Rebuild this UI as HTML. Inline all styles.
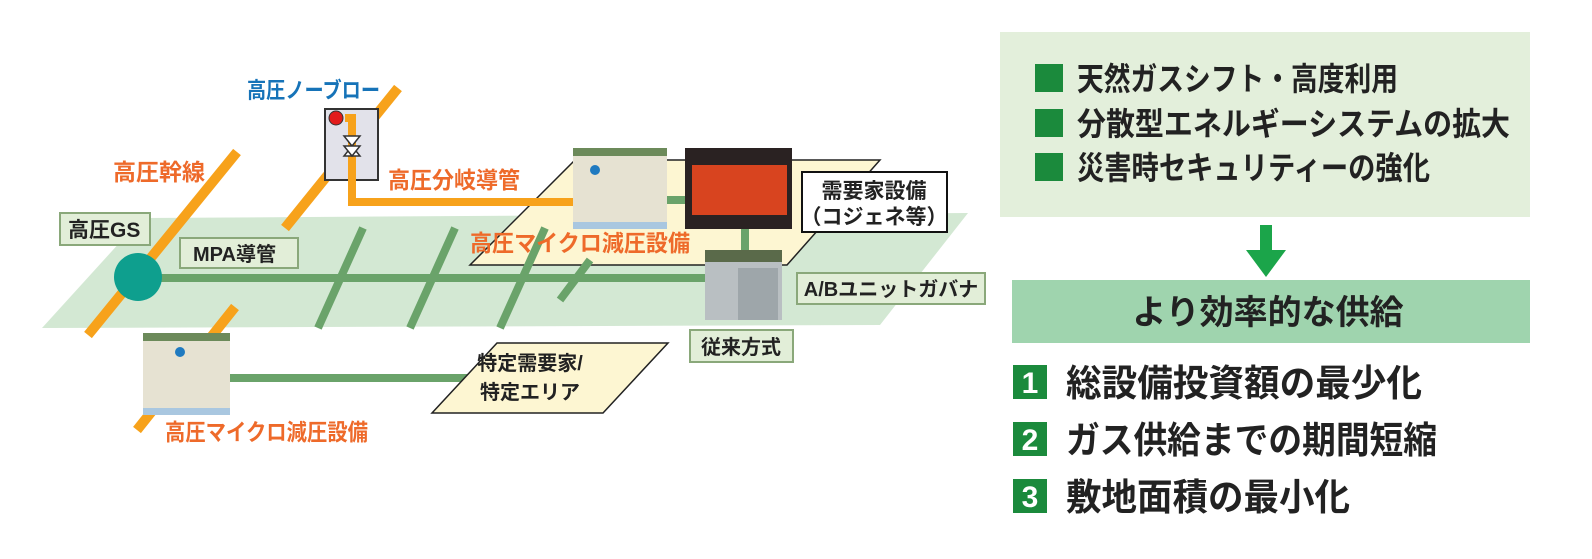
<!DOCTYPE html>
<html><head><meta charset="utf-8"><style>
html,body{margin:0;padding:0;background:#fff;}
svg{display:block}
text{font-family:"Liberation Sans","Noto Sans CJK JP",sans-serif;font-weight:bold;}
</style></head><body>
<svg width="1592" height="559" viewBox="0 0 1592 559" xmlns="http://www.w3.org/2000/svg">
<!-- green plane -->
<polygon points="142,218 968,213 880,325 42,328" fill="#d3e8d3"/>
<!-- yellow parallelogram -->
<polygon points="575,160 880,160 787,265 470,265" fill="#fdf6d2" stroke="#222" stroke-width="1.5"/>
<!-- green pipes -->
<g stroke="#6aa36a" stroke-width="8" fill="none">
<line x1="150" y1="278" x2="705" y2="278"/>
<line x1="318" y1="328" x2="363" y2="228"/>
<line x1="410" y1="328" x2="455" y2="228"/>
<line x1="500" y1="328" x2="545" y2="228"/>
<line x1="560" y1="300" x2="590" y2="260"/>
<line x1="230" y1="378" x2="470" y2="378"/>
<line x1="665" y1="200" x2="690" y2="200"/>
<line x1="745" y1="228" x2="745" y2="252"/>
</g>
<!-- orange pipes -->
<g stroke="#f7a21b" stroke-width="10" fill="none">
<line x1="88" y1="335" x2="237" y2="152"/>
<line x1="137" y1="430" x2="235" y2="307"/>
<line x1="285" y1="228" x2="398" y2="88"/>
</g>
<!-- valve box -->
<rect x="325" y="109" width="53" height="71" fill="#e2e2ea" stroke="#333" stroke-width="2"/>
<polyline points="345,118 352,118 352,202 575,202" fill="none" stroke="#f7a21b" stroke-width="8"/>
<circle cx="336" cy="118" r="7" fill="#e21b1b" stroke="#333" stroke-width="1"/>
<g fill="#fff" stroke="#333" stroke-width="1.5">
<polygon points="344,136 360,136 352,146"/>
<polygon points="344,156 360,156 352,146"/>
<polygon points="344,156 360,156 352,166" transform="translate(0,-10)"/>
</g>
<!-- teal circle -->
<circle cx="138" cy="277" r="24" fill="#0e9f8e"/>
<!-- labels -->
<text x="247" y="98" font-size="22" fill="#1673b8" textLength="133" lengthAdjust="spacingAndGlyphs">高圧ノーブロー</text>
<text x="113" y="180" font-size="23" fill="#ee6a2a">高圧幹線</text>
<text x="388" y="188" font-size="23" fill="#ee6a2a" textLength="132" lengthAdjust="spacingAndGlyphs">高圧分岐導管</text>
<rect x="60" y="213" width="90" height="32" fill="#e2eed8" stroke="#8aa87a" stroke-width="2"/>
<text x="68" y="237" font-size="21" fill="#222">高圧GS</text>
<rect x="180" y="238" width="118" height="30" fill="#e2eed8" stroke="#8aa87a" stroke-width="2"/>
<text x="193" y="261" font-size="20" fill="#222">MPA導管</text>
<!-- photos -->
<rect x="573" y="148" width="94" height="81" fill="#e6e2d2"/>
<rect x="573" y="148" width="94" height="8" fill="#6c8a5a"/>
<circle cx="595" cy="170" r="5" fill="#1f7ac0"/>
<rect x="573" y="222" width="94" height="7" fill="#a9c7e0"/>
<rect x="685" y="148" width="107" height="81" fill="#2a2222"/>
<rect x="692" y="165" width="95" height="50" fill="#d8441f"/>
<rect x="705" y="250" width="77" height="70" fill="#b9bfc2"/>
<rect x="705" y="250" width="77" height="12" fill="#5a6a4a"/>
<rect x="738" y="268" width="40" height="52" fill="#9ea6aa"/>
<rect x="143" y="333" width="87" height="82" fill="#e6e2d2"/>
<rect x="143" y="333" width="87" height="8" fill="#6c8a5a"/>
<circle cx="180" cy="352" r="5" fill="#1f7ac0"/>
<rect x="143" y="408" width="87" height="7" fill="#a9c7e0"/>
<text x="470" y="251" font-size="23" fill="#ee6a2a" textLength="220" lengthAdjust="spacingAndGlyphs">高圧マイクロ減圧設備</text>
<rect x="802" y="172" width="145" height="60" fill="#fff" stroke="#111" stroke-width="2"/>
<text x="874" y="198" font-size="21" fill="#222" text-anchor="middle">需要家設備</text>
<text x="874" y="224" font-size="21" fill="#222" text-anchor="middle">（コジェネ等）</text>
<rect x="797" y="273" width="188" height="31" fill="#e2eed8" stroke="#8aa87a" stroke-width="2"/>
<text x="891" y="296" font-size="20" fill="#222" text-anchor="middle">A/Bユニットガバナ</text>
<rect x="690" y="330" width="103" height="32" fill="#e2eed8" stroke="#8aa87a" stroke-width="2"/>
<text x="741" y="354" font-size="20" fill="#222" text-anchor="middle">従来方式</text>
<polygon points="497,343 668,343 603,413 432,413" fill="#fdf6d2" stroke="#222" stroke-width="1.5"/>
<text x="530" y="370" font-size="20" fill="#222" text-anchor="middle">特定需要家/</text>
<text x="530" y="399" font-size="20" fill="#222" text-anchor="middle">特定エリア</text>
<text x="165" y="440" font-size="23" fill="#ee6a2a" textLength="203" lengthAdjust="spacingAndGlyphs">高圧マイクロ減圧設備</text>
<!-- right panel -->
<rect x="1000" y="32" width="530" height="185" fill="#e3efdb"/>
<g fill="#1b8a3c">
<rect x="1035" y="64" width="28" height="28"/>
<rect x="1035" y="109" width="28" height="28"/>
<rect x="1035" y="153" width="28" height="28"/>
</g>
<g font-size="32" fill="#222">
<text x="1077" y="90" textLength="321" lengthAdjust="spacingAndGlyphs">天然ガスシフト・高度利用</text>
<text x="1077" y="135" textLength="433" lengthAdjust="spacingAndGlyphs">分散型エネルギーシステムの拡大</text>
<text x="1077" y="179" textLength="353" lengthAdjust="spacingAndGlyphs">災害時セキュリティーの強化</text>
</g>
<rect x="1260" y="225" width="12" height="28" fill="#1ba54a"/>
<polygon points="1246,250 1286,250 1266,277" fill="#1ba54a"/>
<rect x="1012" y="280" width="518" height="63" fill="#9fd4ae"/>
<text x="1268" y="324" font-size="34" fill="#222" text-anchor="middle">より効率的な供給</text>
<g>
<rect x="1013" y="365" width="34" height="34" fill="#1b8a3c"/>
<text x="1030" y="393" font-size="30" fill="#fff" text-anchor="middle" style="font-family:'Liberation Sans',sans-serif">1</text>
<rect x="1013" y="422" width="34" height="34" fill="#1b8a3c"/>
<text x="1030" y="450" font-size="30" fill="#fff" text-anchor="middle" style="font-family:'Liberation Sans',sans-serif">2</text>
<rect x="1013" y="479" width="34" height="34" fill="#1b8a3c"/>
<text x="1030" y="507" font-size="30" fill="#fff" text-anchor="middle" style="font-family:'Liberation Sans',sans-serif">3</text>
</g>
<g font-size="37" fill="#222">
<text x="1066" y="396" textLength="356" lengthAdjust="spacingAndGlyphs">総設備投資額の最少化</text>
<text x="1066" y="453" textLength="371" lengthAdjust="spacingAndGlyphs">ガス供給までの期間短縮</text>
<text x="1066" y="510" textLength="284" lengthAdjust="spacingAndGlyphs">敷地面積の最小化</text>
</g>
</svg>
</body></html>
